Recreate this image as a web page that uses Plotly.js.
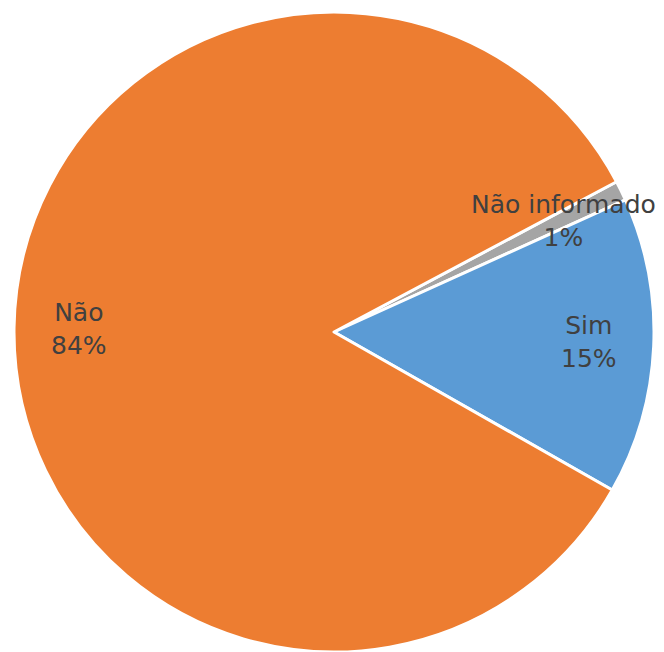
<!DOCTYPE html>
<html>
<head>
<meta charset="utf-8">
<script src="https://cdn.plot.ly/plotly-3.0.1.min.js"></script>
<style>html,body{margin:0;padding:0;background:#fff;}#chart{width:664px;height:652px;}</style>
</head>
<body>
<div id="chart"></div>
<script>
const labels = ["Não informado", "Sim", "Não"];
const values = [1, 15, 84];
const percentText = ["1%", "15%", "84%"];
const colors = ["#A5A5A5", "#5B9BD5", "#ED7D31"];

const W = 664, H = 652;
// label anchor positions (pixels) for each slice's text
const labelPos = [[563, 221], [589, 342], [79, 329]];

const trace = {
  type: "pie",
  labels: labels,
  values: values,
  sort: false,
  direction: "clockwise",
  rotation: 62,
  marker: {colors: colors, line: {color: "#ffffff", width: 3}},
  textinfo: "none",
  hoverinfo: "label+percent",
  domain: {x: [14 / W, 654 / W], y: [0, (H - 12) / H]},
  showlegend: false
};

const annotations = labels.map((l, i) => ({
  x: labelPos[i][0] / W,
  y: 1 - labelPos[i][1] / H,
  xref: "paper", yref: "paper",
  xanchor: "center", yanchor: "middle",
  text: l + "<br>" + percentText[i],
  showarrow: false,
  align: "center",
  font: {family: "DejaVu Sans", size: 25, color: "#404040"}
}));

Plotly.newPlot("chart", [trace], {
  width: W, height: H,
  margin: {l: 0, r: 0, t: 0, b: 0},
  paper_bgcolor: "#ffffff",
  annotations: annotations
}, {displayModeBar: false});
</script>
</body>
</html>
